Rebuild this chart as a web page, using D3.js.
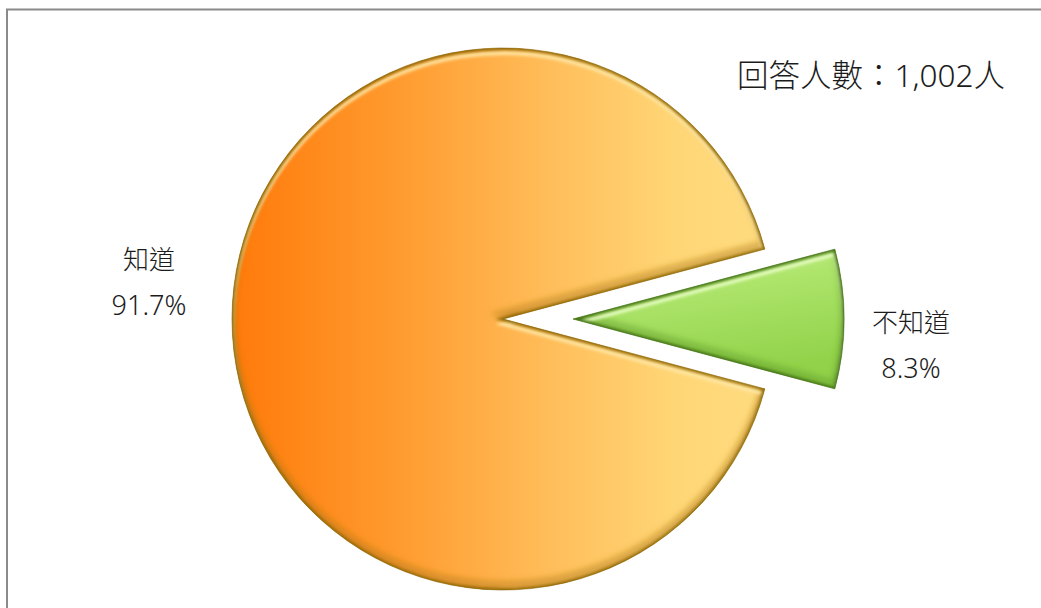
<!DOCTYPE html>
<html>
<head>
<meta charset="utf-8">
<script src="https://cdn.jsdelivr.net/npm/d3@7/dist/d3.min.js"></script>
<style>
  html, body { margin: 0; padding: 0; background: #fff; }
  svg { display: block; }
  text { font-family: "Noto Sans", "Noto Sans CJK TC", sans-serif; fill: #1c1c1c; font-weight: 300; }
</style>
</head>
<body>
<svg id="chart" width="1041" height="608"></svg>
<script>
// ---- data ----
const categories = ["知道", "不知道"];
const values = [91.7, 8.3];
const valueLabels = ["91.7%", "8.3%"];
const noteText = "回答人數：1,002人";

// ---- layout ----
const W = 1041, H = 608;
const cx = 503, cy = 319, R = 271;
const explode = [0, 70];

const svg = d3.select("#chart");
const defs = svg.append("defs");

// gradients (user space of each translated slice group: origin at pie centre)
const gOrange = defs.append("linearGradient").attr("id", "gOrange")
  .attr("gradientUnits", "userSpaceOnUse")
  .attr("x1", -R).attr("y1", 0).attr("x2", R).attr("y2", 0);
[["0%", "#ff7a0a"], ["30%", "#ff9a2e"], ["60%", "#ffbf5c"], ["82%", "#ffd676"], ["100%", "#ffdc80"]]
  .forEach(s => gOrange.append("stop").attr("offset", s[0]).attr("stop-color", s[1]));

const gGreen = defs.append("linearGradient").attr("id", "gGreen")
  .attr("x1", 0).attr("y1", 0).attr("x2", 0.3).attr("y2", 1);
[["0%", "#d0f59c"], ["40%", "#ade46a"], ["100%", "#91d24a"]]
  .forEach(s => gGreen.append("stop").attr("offset", s[0]).attr("stop-color", s[1]));

const blur = defs.append("filter").attr("id", "soft")
  .attr("x", "-10%").attr("y", "-10%").attr("width", "120%").attr("height", "120%");
blur.append("feGaussianBlur").attr("stdDeviation", 1.6);
const blur2 = defs.append("filter").attr("id", "soft2")
  .attr("x", "-10%").attr("y", "-10%").attr("width", "120%").attr("height", "120%");
blur2.append("feGaussianBlur").attr("stdDeviation", 3);

// border
svg.append("rect").attr("x", 7).attr("y", 9.5).attr("width", W).attr("height", H + 20)
  .attr("fill", "none").attr("stroke", "#8a8a8a").attr("stroke-width", 2);

// pie
const greenShare = values[1] / d3.sum(values);
const start = Math.PI / 2 + greenShare * Math.PI;
const pie = d3.pie().sort(null).startAngle(start).endAngle(start + 2 * Math.PI);
const arcs = pie(values);
const arcGen = d3.arc().innerRadius(0).outerRadius(R);

const fills = ["url(#gOrange)", "url(#gGreen)"];
const darkEdge = ["#8a6406", "#3f6e12"];
const lightEdge = ["#ffe9a6", "#eaffc8"];
const shadeEdge = ["#b07a10", "#5e9a24"];

arcs.forEach((a, i) => {
  const mid = (a.startAngle + a.endAngle) / 2;
  const ox = Math.sin(mid) * explode[i], oy = -Math.cos(mid) * explode[i];
  const g = svg.append("g").attr("transform", `translate(${cx + ox},${cy + oy})`);
  const d = arcGen(a);
  const clipId = "clip" + i;
  defs.append("clipPath").attr("id", clipId).append("path").attr("d", d);

  g.append("path").attr("d", d).attr("fill", fills[i]);

  const inner = g.append("g").attr("clip-path", `url(#${clipId})`);
  inner.append("path").attr("d", d).attr("transform", "translate(0,-5)")
    .attr("fill", "none").attr("stroke", shadeEdge[i]).attr("stroke-width", 7)
    .attr("stroke-opacity", 0.55).attr("filter", "url(#soft2)");
  inner.append("path").attr("d", d).attr("transform", "translate(0,5)")
    .attr("fill", "none").attr("stroke", lightEdge[i]).attr("stroke-width", 4)
    .attr("stroke-opacity", 0.9).attr("filter", "url(#soft)");
  inner.append("path").attr("d", d)
    .attr("fill", "none").attr("stroke", darkEdge[i]).attr("stroke-width", 4)
    .attr("stroke-opacity", 0.9).attr("filter", "url(#soft)");
  g.append("path").attr("d", d)
    .attr("fill", "none").attr("stroke", darkEdge[i]).attr("stroke-width", 1)
    .attr("stroke-opacity", 0.6);
});

// labels
const labelR = [354, 338];
const labelDy = [-38, 25];
arcs.forEach((a, i) => {
  const mid = (a.startAngle + a.endAngle) / 2;
  const rr = labelR[i] + explode[i];
  const lx = cx + Math.sin(mid) * rr;
  const ly = cy - Math.cos(mid) * rr + labelDy[i];
  svg.append("text").attr("x", lx).attr("y", ly - 12)
    .attr("text-anchor", "middle").attr("font-size", 26).text(categories[i]);
  svg.append("text").attr("x", lx).attr("y", ly + 34)
    .attr("text-anchor", "middle").attr("font-size", 27).text(valueLabels[i]);
});

svg.append("text").attr("x", 1005).attr("y", 87)
  .attr("text-anchor", "end").attr("font-size", 31.5).text(noteText);
</script>
</body>
</html>
